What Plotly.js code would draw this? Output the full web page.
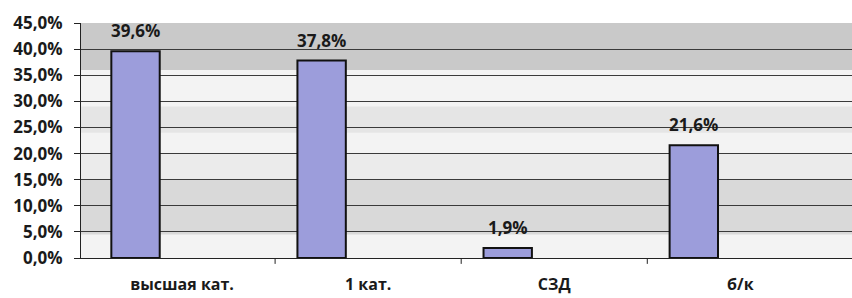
<!DOCTYPE html>
<html><head><meta charset="utf-8">
<script src="https://cdn.plot.ly/plotly-3.0.1.min.js"></script>
<style>html,body{margin:0;padding:0;background:#fff}#c{width:852px;height:298px}</style>
</head><body><div id="c"></div>
<script>
const categories = ['высшая кат.', '1 кат.', 'СЗД', 'б/к'];
const values = [39.6, 37.8, 1.9, 21.6];
const tickVals = [0, 5, 10, 15, 20, 25, 30, 35, 40, 45];

const fmt = v => v.toFixed(1).replace('.', ',') + '%';
const idx = categories.map((c, i) => i);

const trace = {
  type: 'bar',
  x: idx,
  y: values,
  width: 0.26,
  offset: -0.38,
  marker: {color: '#9c9ddb', line: {color: '#111', width: 2}},
  hoverinfo: 'skip'
};

const annotations = values.map((v, i) => ({
  x: i - 0.25, y: v, xref: 'x', yref: 'y',
  text: fmt(v), showarrow: false, yanchor: 'bottom', yshift: 7,
  font: {family: 'Open Sans, Lato, sans-serif', size: 17, color: '#1a1a1a', weight: 'bold'}
}));

const bands = [
  {y0: 36, y1: 45, c: 'rgba(150,150,150,0.45)'},
  {y0: 24, y1: 29, c: 'rgba(180,180,180,0.22)'},
  {y0: 4.5, y1: 15, c: 'rgba(160,160,160,0.3)'},
  {y0: 15, y1: 20, c: 'rgba(200,200,200,0.18)'}
];
const shapes = bands.map(b => ({
  type: 'rect', xref: 'paper', yref: 'y', x0: 0, x1: 1, y0: b.y0, y1: b.y1,
  fillcolor: b.c, line: {width: 0}, layer: 'below'
}));

const layout = {
  width: 852, height: 298,
  margin: {l: 81, r: 0, t: 23, b: 40},
  paper_bgcolor: '#ffffff',
  plot_bgcolor: '#f3f3f3',
  showlegend: false,
  xaxis: {
    range: [-0.543, 3.6],
    tickvals: idx, ticktext: categories,
    showgrid: false, zeroline: false,
    showline: true, linecolor: '#222', linewidth: 1,
    ticks: '', ticklabelstandoff: 12,
    tickfont: {family: 'Open Sans, Lato, sans-serif', size: 16, color: '#1a1a1a', weight: 'bold'}
  },
  yaxis: {
    range: [0, 45],
    tickvals: tickVals,
    ticktext: tickVals.map(fmt),
    showgrid: true, gridcolor: '#3a3a3a', gridwidth: 1,
    zeroline: false,
    showline: true, linecolor: '#222', linewidth: 1,
    ticks: 'outside', ticklen: 6, tickcolor: '#222', ticklabelstandoff: 8,
    tickfont: {family: 'Open Sans, Lato, sans-serif', size: 17, color: '#1a1a1a', weight: 'bold'}
  },
  annotations: annotations,
  shapes: shapes.concat([0.5, 1.5, 2.5].map(b => ({
    type: 'line', xref: 'x', yref: 'paper', x0: b, x1: b, y0: 0, y1: -0.025,
    line: {color: '#222', width: 1}
  })))
};

Plotly.newPlot('c', [trace], layout, {staticPlot: true, displayModeBar: false});
</script></body></html>
